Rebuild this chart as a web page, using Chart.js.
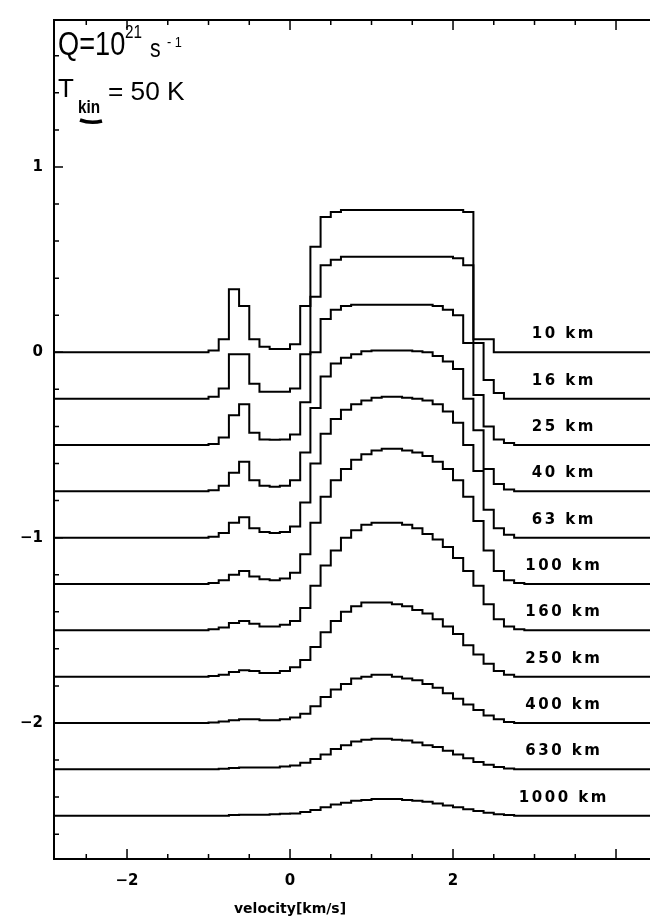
<!DOCTYPE html>
<html>
<head>
<meta charset="utf-8">
<script src="https://cdn.jsdelivr.net/npm/chart.js@4.4.0/dist/chart.umd.min.js"></script>
<style>
  html, body { margin: 0; padding: 0; background: #fff; }
</style>
</head>
<body>
<canvas id="myChart" width="650" height="919"></canvas>
<script>
// channel centres, km/s (0.125 km/s channels)
const velocities = [-1.3125, -1.1875, -1.0625, -0.9375, -0.8125, -0.6875, -0.5625, -0.4375, -0.3125,
  -0.1875, -0.0625, 0.0625, 0.1875, 0.3125, 0.4375, 0.5625, 0.6875, 0.8125, 0.9375, 1.0625, 1.1875,
  1.3125, 1.4375, 1.5625, 1.6875, 1.8125, 1.9375, 2.0625, 2.1875, 2.3125, 2.4375, 2.5625, 2.6875,
  2.8125, 2.9375, 3.0625];

const distances = ['10 km', '16 km', '25 km', '40 km', '63 km', '100 km', '160 km', '250 km', '400 km', '630 km', '1000 km'];
const offsets = [0, -0.25, -0.5, -0.75, -1, -1.25, -1.5, -1.75, -2, -2.25, -2.5];

const s10 = [0, 0, 0, .01, .07, .34, .25, .07, .03, .018, .018, .044, .25, .57, .73, .757, .768, .768, .768, .768, .768, .768, .768, .768, .768, .768, .768, .768, .757, .07, .07, 0, 0, 0, 0, 0];
const s16 = [0, 0, 0, .01, .055, .24, .24, .08, .037, .037, .037, .055, .24, .55, .72, .75, .765, .765, .765, .765, .765, .765, .765, .765, .765, .765, .765, .757, .72, .3, .1, .03, 0, 0, 0, 0];
const s25 = [0, 0, 0, .005, .04, .16, .22, .066, .03, .028, .03, .057, .23, .5, .68, .73, .75, .757, .757, .757, .757, .757, .757, .757, .757, .75, .73, .7, .55, .27, .1, .03, .01, 0, 0, 0];
const s40 = [0, 0, 0, .005, .03, .1, .16, .06, .03, .025, .03, .06, .21, .45, .62, .69, .72, .74, .755, .76, .76, .76, .76, .755, .75, .73, .7, .66, .5, .33, .12, .04, .01, 0, 0, 0];
const s63 = [0, 0, 0, .005, .025, .08, .11, .05, .03, .025, .03, .06, .19, .4, .56, .64, .69, .72, .74, .755, .76, .76, .755, .75, .74, .72, .68, .62, .5, .36, .15, .05, .015, 0, 0, 0];
const s100 = [0, 0, 0, .005, .02, .05, .07, .04, .025, .02, .03, .06, .16, .33, .47, .56, .62, .67, .7, .72, .73, .73, .72, .71, .69, .66, .62, .56, .47, .34, .18, .07, .02, .005, 0, 0];
const s160 = [0, 0, 0, .005, .015, .04, .05, .035, .02, .02, .03, .05, .12, .24, .35, .43, .5, .54, .57, .58, .58, .58, .57, .55, .52, .49, .45, .39, .32, .24, .14, .06, .02, .005, 0, 0];
const s250 = [0, 0, 0, .003, .01, .025, .035, .03, .02, .02, .03, .05, .09, .16, .24, .3, .35, .38, .4, .4, .4, .39, .38, .36, .34, .31, .27, .23, .17, .12, .07, .03, .01, 0, 0, 0];
const s400 = [0, 0, 0, .003, .008, .015, .02, .02, .015, .015, .02, .03, .05, .09, .14, .18, .21, .24, .25, .26, .26, .25, .24, .23, .21, .19, .16, .13, .1, .07, .04, .02, .005, 0, 0, 0];
const s630 = [0, 0, 0, 0, .003, .007, .01, .01, .01, .01, .015, .02, .035, .055, .08, .11, .13, .15, .16, .165, .165, .16, .155, .145, .13, .12, .1, .08, .06, .04, .025, .012, .004, 0, 0, 0];
const s1000 = [0, 0, 0, 0, 0, .003, .005, .005, .005, .007, .01, .012, .02, .03, .045, .06, .07, .08, .085, .09, .09, .09, .085, .08, .075, .065, .055, .045, .035, .025, .015, .008, .003, 0, 0, 0];
const spectra = [s10, s16, s25, s40, s63, s100, s160, s250, s400, s630, s1000];

const xTicks = [-2.5, -2, -1.5, -1, -0.5, 0, 0.5, 1, 1.5, 2, 2.5, 3, 3.5, 4];
const xMajor = [-2, 0, 2, 4];
const xLabels = [-2, 0, 2];
const yTicks = [-2.6, -2.4, -2.2, -2, -1.8, -1.6, -1.4, -1.2, -1, -0.8, -0.6, -0.4, -0.2, 0, 0.2, 0.4, 0.6, 0.8, 1, 1.2, 1.4, 1.6];
const yLabels = [-2, -1, 0, 1];

const xMin = -2.896, xMax = 4.417, yMin = -2.734, yMax = 1.793;
const labelX = 3.36;

function fmt(v) {
  return v < 0 ? '\u2212' + Math.abs(v) : String(v);
}

const datasets = spectra.map(function (s, i) {
  const pts = s.map(function (v, j) { return { x: velocities[j], y: v + offsets[i] }; });
  pts.unshift({ x: xMin - 0.2, y: offsets[i] });
  pts.push({ x: xMax + 0.2, y: offsets[i] });
  return {
    label: distances[i],
    data: pts,
    stepped: 'middle',
    borderColor: '#000',
    borderWidth: 2,
    pointRadius: 0,
    fill: false
  };
});

// frame, inward ticks, axis title, distance labels, hand-written notes
const decorations = {
  id: 'decorations',
  afterDraw(chart) {
    const { ctx, chartArea: a, scales: { x, y } } = chart;
    ctx.save();
    ctx.strokeStyle = '#000';
    ctx.lineWidth = 2;
    ctx.beginPath();
    ctx.moveTo(a.right + 2, a.top);
    ctx.lineTo(a.left, a.top);
    ctx.lineTo(a.left, a.bottom);
    ctx.lineTo(a.right + 2, a.bottom);
    ctx.stroke();

    ctx.lineWidth = 1.5;
    ctx.beginPath();
    xTicks.forEach(function (v) {
      const px = x.getPixelForValue(v);
      const len = xMajor.includes(v) ? 10 : 5;
      ctx.moveTo(px, a.bottom); ctx.lineTo(px, a.bottom - len);
      ctx.moveTo(px, a.top); ctx.lineTo(px, a.top + len);
    });
    yTicks.forEach(function (v) {
      const py = y.getPixelForValue(v);
      const len = yLabels.includes(v) ? 9 : 5;
      ctx.moveTo(a.left, py); ctx.lineTo(a.left + len, py);
    });
    ctx.stroke();

    ctx.fillStyle = '#000';
    ctx.textAlign = 'center';
    ctx.textBaseline = 'middle';
    ctx.font = 'bold 14px "DejaVu Sans"';
    ctx.fillText('velocity[km/s]', x.getPixelForValue(0), 909);

    ctx.textBaseline = 'alphabetic';
    ctx.font = 'bold 15px "DejaVu Sans"';
    ctx.letterSpacing = '2.5px';
    distances.forEach(function (d, i) {
      ctx.fillText(d, x.getPixelForValue(labelX), y.getPixelForValue(offsets[i] + 0.075));
    });
    ctx.letterSpacing = '0px';

    ctx.textAlign = 'left';
    function hand(txt, px, py, size, sx, weight) {
      ctx.save();
      ctx.translate(px, py);
      ctx.scale(sx, 1);
      ctx.font = (weight || 'normal') + ' ' + size + 'px "Liberation Sans"';
      ctx.fillText(txt, 0, 0);
      ctx.restore();
    }
    hand('Q=10', 58, 55, 34, 0.8);
    hand('21', 125, 38, 18, 0.85);
    hand('s', 150, 57, 25, 0.85);
    hand('- 1', 167, 47, 15, 0.85);
    hand('T', 58, 97, 26, 1);
    hand('kin', 78, 113, 18, 0.85, 'bold');
    hand('= 50 K', 108, 100, 25, 1.05);
    ctx.lineWidth = 3.5;
    ctx.beginPath();
    ctx.moveTo(80, 120);
    ctx.quadraticCurveTo(91, 124, 102, 121);
    ctx.stroke();
    ctx.restore();
  }
};

const tickFont = { family: 'DejaVu Sans', size: 15, weight: 'bold' };

const ctx = document.getElementById('myChart').getContext('2d');
const myChart = new Chart(ctx, {
  type: 'line',
  data: { datasets: datasets },
  options: {
    responsive: false,
    animation: false,
    devicePixelRatio: 1,
    layout: { padding: { top: 8, right: 0, left: 0, bottom: 0 } },
    plugins: { legend: { display: false }, tooltip: { enabled: false } },
    scales: {
      x: {
        type: 'linear',
        min: xMin,
        max: xMax,
        afterFit: function (s) { s.height = 60; },
        afterBuildTicks: function (s) { s.ticks = xTicks.map(function (v) { return { value: v }; }); },
        grid: { display: false, drawTicks: false },
        border: { display: false },
        ticks: {
          autoSkip: false,
          maxRotation: 0,
          padding: 13,
          color: '#000',
          font: tickFont,
          callback: function (v) { return xLabels.includes(v) ? fmt(v) : ''; }
        }
      },
      y: {
        type: 'linear',
        min: yMin,
        max: yMax,
        afterFit: function (s) { s.width = 54; },
        afterBuildTicks: function (s) { s.ticks = yTicks.map(function (v) { return { value: v }; }); },
        grid: { display: false, drawTicks: false },
        border: { display: false },
        ticks: {
          autoSkip: false,
          padding: 11,
          color: '#000',
          font: tickFont,
          callback: function (v) { return yLabels.includes(v) ? fmt(v) : ''; }
        }
      }
    }
  },
  plugins: [decorations]
});
</script>
</body>
</html>
